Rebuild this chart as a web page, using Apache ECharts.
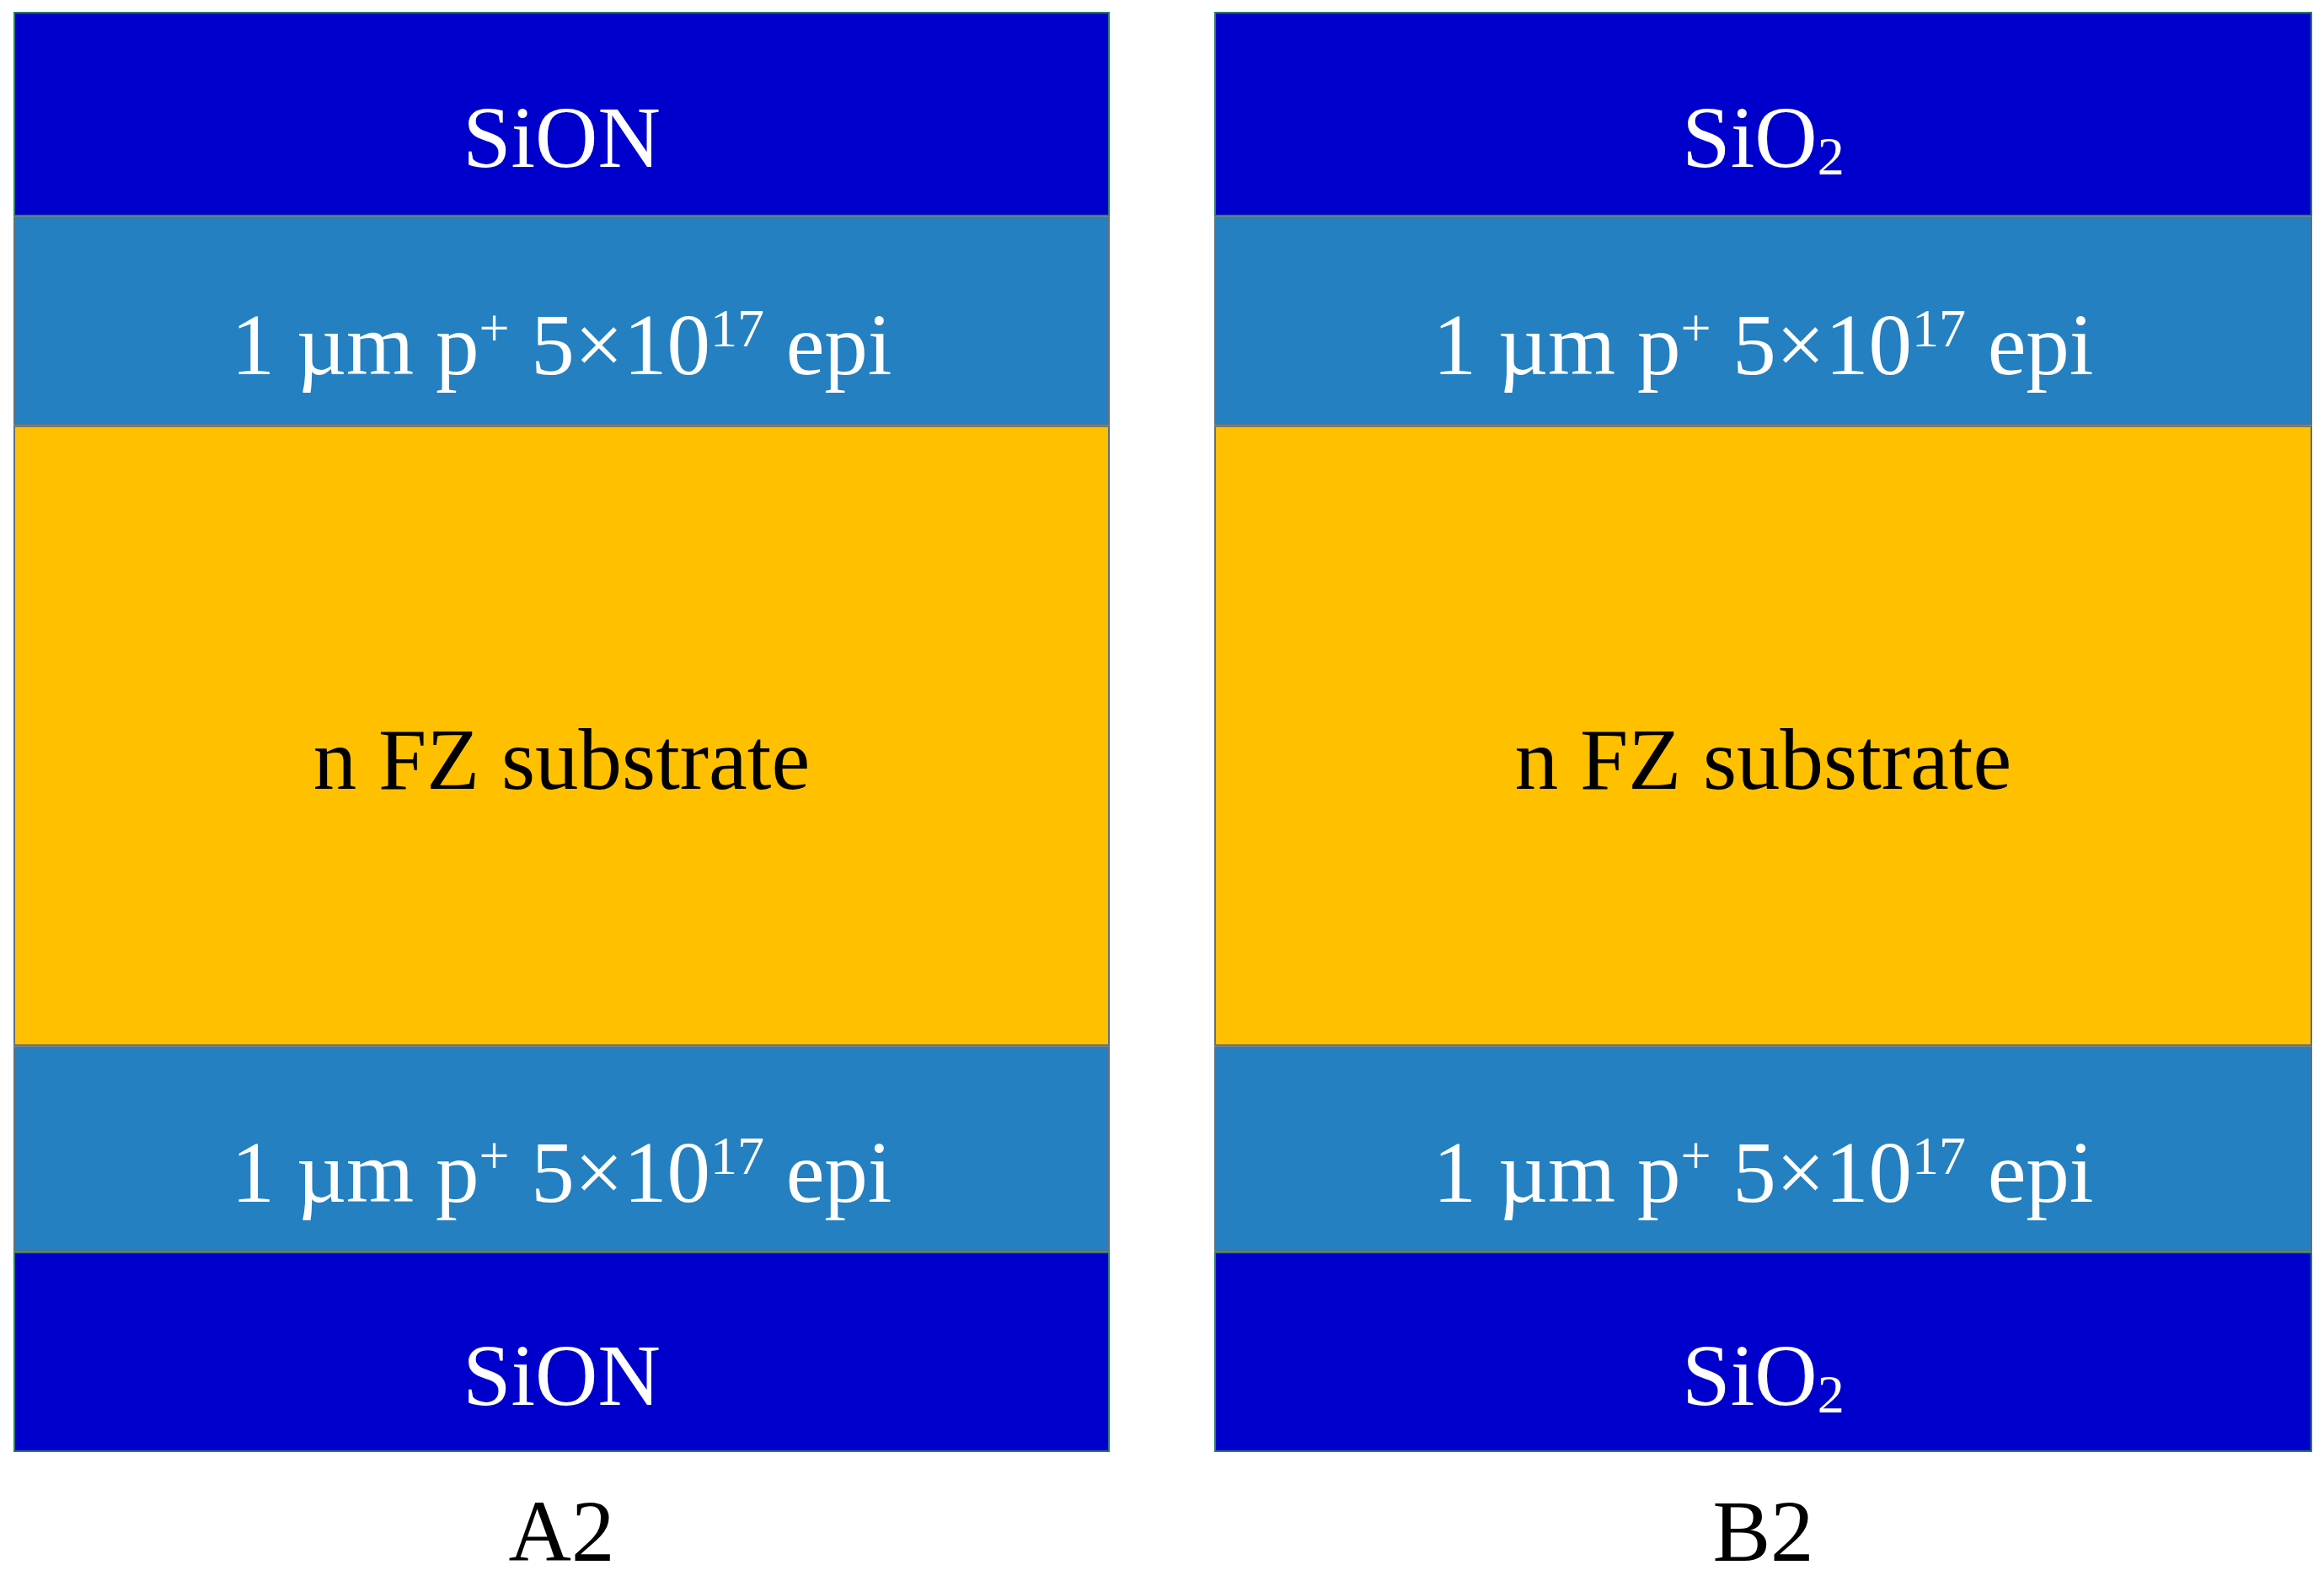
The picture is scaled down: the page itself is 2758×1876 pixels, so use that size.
<!DOCTYPE html>
<html><head><meta charset="utf-8">
<script src="https://cdn.jsdelivr.net/npm/echarts@6/dist/echarts.min.js"></script>
<style>html,body{margin:0;padding:0;background:#fff}#c{width:2758px;height:1876px}</style>
</head><body><div id="c"></div>
<script>
const panels = ['A2', 'B2'];
const layerNames = ['top oxide', 'top epi', 'substrate', 'bottom epi', 'bottom oxide'];
const layerThickness = [243, 248, 737, 244, 238];
const layerColors = ['#0000CC', '#2480C0', '#FFC000', '#2480C0', '#0000CC'];
const labelsA = ['SiON', '1 µm p{sup|+} 5×10{sup|17} epi', '{dark|n FZ substrate}', '1 µm p{sup|+} 5×10{sup|17} epi', 'SiON'];
const labelsB = ['SiO{sub|2}', '1 µm p{sup|+} 5×10{sup|17} epi', '{dark|n FZ substrate}', '1 µm p{sup|+} 5×10{sup|17} epi', 'SiO{sub|2}'];
const total = layerThickness.reduce((a,b)=>a+b,0);
const font = 'Liberation Serif';
const rich = {
  sup:{fontSize:64,fontFamily:font,color:'#fff',padding:[0,0,46,0]},
  sub:{fontSize:64,fontFamily:font,color:'#fff',padding:[38,0,0,0]},
  dark:{fontSize:103,fontFamily:font,color:'#000'}
};
const grids = [{left:16,top:14,width:1301,height:1724},{left:1441,top:14,width:1303,height:1724}];
const series = [];
[labelsA, labelsB].forEach((labs, gi) => {
  layerNames.forEach((n, li) => {
    const d = [layerThickness[li]];
    series.push({
      type:'bar', name:n, stack:'s'+gi, xAxisIndex:gi, yAxisIndex:gi,
      barWidth:'100%', data:d,
      itemStyle:{color:layerColors[li], borderColor: layerColors[li]==='#0000CC' ? '#2a7a6a' : '#60707c', borderWidth:2},
      label:{show:true, position:'inside', offset:[0,36], formatter:labs[li], fontFamily:font, fontSize:103, color:'#fff', rich:rich},
      animation:false
    });
  });
});
const chart = echarts.init(document.getElementById('c'));
chart.setOption({
  animation:false,
  grid:grids,
  xAxis:panels.map((p,i)=>({type:'category',gridIndex:i,data:[p],axisLine:{show:false},axisTick:{show:false},
    axisLabel:{fontFamily:font,fontSize:103,color:'#000',margin:50}})),
  yAxis:panels.map((p,i)=>({type:'value',gridIndex:i,min:0,max:total,inverse:true,show:false,splitLine:{show:false}})),
  series:series
});
</script></body></html>
